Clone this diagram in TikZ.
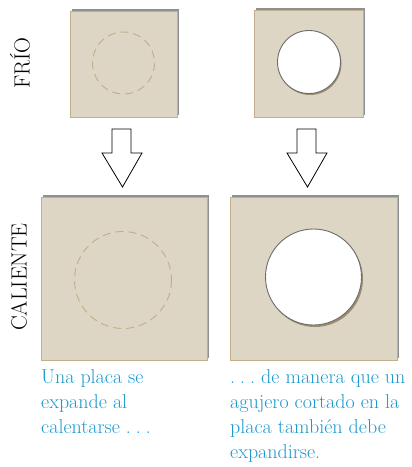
\documentclass[tikz,border=0pt]{standalone}
\definecolor{plate}{HTML}{DDD6C5}
\definecolor{plateedge}{HTML}{C2B08A}
\definecolor{shadowg}{HTML}{8E9094}
\definecolor{dashc}{HTML}{BFAE88}
\definecolor{capblue}{HTML}{1A98CE}
\newcommand{\spdots}{.\kern0.25em.\kern0.25em.}
\tikzset{
  platebox/.style={fill=plate, draw=plateedge, line width=0.9pt},
  plateshadow/.style={fill=shadowg, draw=none},
  dashcircle/.style={draw=dashc, line width=0.9pt, dash pattern=on 8pt off 5pt},
  holecircle/.style={fill=white, draw=gray!85!black, line width=0.9pt},
  holeshadow/.style={fill=plateedge!80!black, draw=none},
  bigarrow/.style={draw=black, fill=white, line width=0.8pt, line join=miter},
  caption/.style={text=capblue, font=\fontsize{20}{25}\selectfont, align=left, anchor=north west, inner sep=0pt},
  rowlabel/.style={font=\fontsize{22}{24}\selectfont, rotate=90, inner sep=0pt}
}
\begin{document}
\begin{tikzpicture}[x=1pt, y=-1pt]
\useasboundingbox (0,0) rectangle (412,467);
% top-left plate
\fill[plateshadow] (72,9) rectangle (179,115);
\draw[platebox] (70,11) rectangle (177,117);
\coordinate (tl) at (123.5,63);
\draw[dashcircle] (tl) circle (31);
% top-right plate
\fill[plateshadow] (256,8) rectangle (365,115);
\draw[platebox] (254,10) rectangle (363,117);
\coordinate (tr) at (309,62);
\fill[holeshadow] (310,63.5) circle (31.5);
\draw[holecircle] (tr) circle (31.5);
% bottom-left plate
\fill[plateshadow] (43,195) rectangle (209,358);
\draw[platebox] (41,197) rectangle (207,360);
\coordinate (bl) at (123,280);
\draw[dashcircle] (bl) circle (48.5);
% bottom-right plate
\fill[plateshadow] (232,195) rectangle (399,358);
\draw[platebox] (230,197) rectangle (397,360);
\coordinate (br) at (313.5,277);
\fill[holeshadow] (315,279) circle (48);
\draw[holecircle] (br) circle (48);
% arrows
\draw[bigarrow] (112,129) -- (131,129) -- (131,153) -- (142,153) -- (122.5,187) -- (102,153) -- (112,153) -- cycle;
\draw[bigarrow] (297,129) -- (316,129) -- (316,153) -- (327,153) -- (307.5,187) -- (287,153) -- (297,153) -- cycle;
% row labels
\node[rowlabel] (frio) at (20,63) {FRÍO};
\node[rowlabel] (cal) at (19,277) {CALIENTE};
% captions
\node[caption] (c1) at (41,369) {Una placa se\\expande al\\calentarse \spdots};
\node[caption] (c2) at (230,369) {\spdots\ de manera que un\\agujero cortado en la\\placa también debe\\expandirse.};
\end{tikzpicture}
\end{document}
